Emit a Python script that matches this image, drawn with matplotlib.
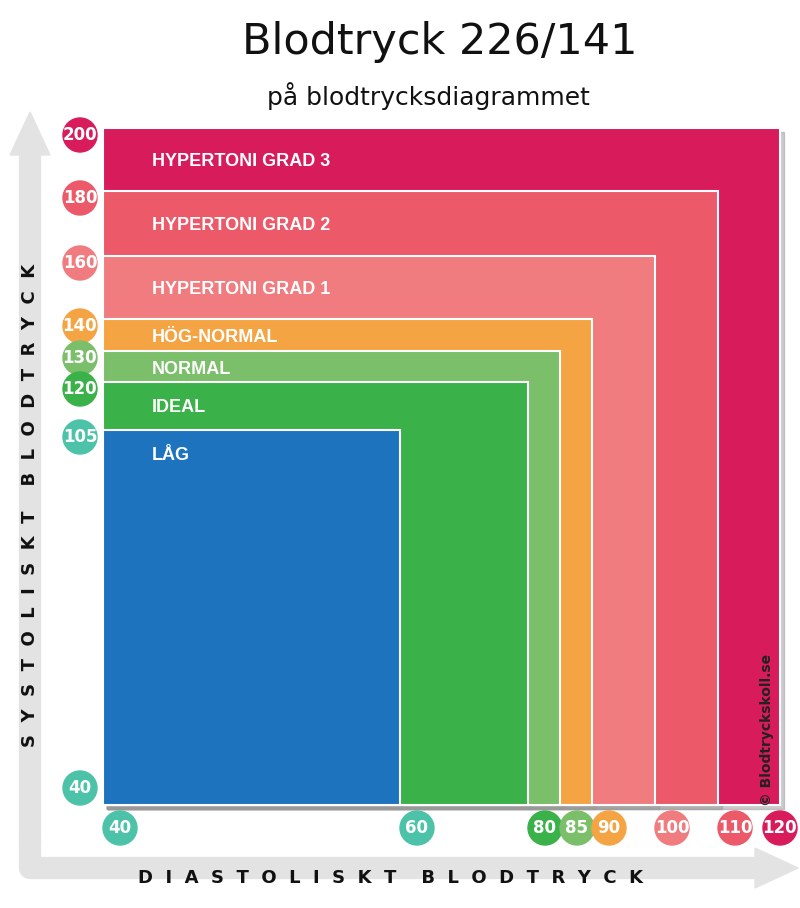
import matplotlib
matplotlib.use("Agg")
import matplotlib.pyplot as plt
import numpy as np
from matplotlib.patches import Rectangle, Circle, FancyArrow

# Data
categories = ["HYPERTONI GRAD 3", "HYPERTONI GRAD 2", "HYPERTONI GRAD 1", "HÖG-NORMAL", "NORMAL", "IDEAL", "LÅG"]
systolic = [200, 180, 160, 140, 130, 120, 105]
diastolic = [120, 110, 100, 90, 85, 80, 60]
colors = ["#D81B5A", "#EC5A6A", "#F07C80", "#F5A444", "#7BBF6A", "#3BB14A", "#1E73BE"]
sys_ticks = [200, 180, 160, 140, 130, 120, 105, 40]
dia_ticks = [40, 60, 80, 85, 90, 100, 110, 120]
title = "Blodtryck 226/141"
subtitle = "på blodtrycksdiagrammet"

# Layout scale (value -> pixel), piecewise axis of the original graphic
sys_scale_v = [40, 105, 120, 130, 140, 160, 180, 200]
sys_scale_p = [805, 430, 382, 351, 319, 256, 191, 128]
dia_scale_v = [40, 60, 80, 85, 90, 100, 110, 120]
dia_scale_p = [103, 400, 528, 560, 592, 655, 718, 780]
sy = lambda v: np.interp(v, sys_scale_v, sys_scale_p)
dx = lambda v: np.interp(v, dia_scale_v, dia_scale_p)

fig = plt.figure(figsize=(8, 9.08), dpi=100)
ax = fig.add_axes([0, 0, 1, 1])
ax.set_xlim(0, 800); ax.set_ylim(908, 0); ax.axis("off")

# gray arrows
g = "#E3E3E3"
ax.plot([30, 30], [845, 150], color=g, lw=16, solid_capstyle="butt", zorder=0)
ax.add_patch(plt.Polygon([[10, 155], [50, 155], [30, 112]], color=g, zorder=0))
ax.plot([30, 30, 760], [845, 868, 868], color=g, lw=16, solid_joinstyle="round", zorder=0)
ax.add_patch(plt.Polygon([[755, 848], [755, 888], [798, 868]], color=g, zorder=0))

x0, ybot = 103, 805
for cat, s, d, c in zip(categories, systolic, diastolic, colors):
    top, right = sy(s), dx(d)
    ax.add_patch(Rectangle((x0 + 4, top + 4), right - x0, ybot - top, color="#999999", alpha=0.5, zorder=1))
    ax.add_patch(Rectangle((x0, top), right - x0, ybot - top, facecolor=c, edgecolor="white", lw=1.5, zorder=2))
    ty = top + (34 if s >= 160 else (18 if s in (140, 130) else 25))
    ax.text(152, ty, cat, color="white", fontsize=13, fontweight="bold", family="Liberation Sans Narrow" if False else "Liberation Sans",
            va="center", ha="left", zorder=3)

sys_col = {200: "#D81B5A", 180: "#EC5A6A", 160: "#F07C80", 140: "#F5A444", 130: "#7BBF6A", 120: "#3BB14A", 105: "#4CC3A8", 40: "#4CC3A8"}
dia_col = {40: "#4CC3A8", 60: "#4CC3A8", 80: "#3BB14A", 85: "#7BBF6A", 90: "#F5A444", 100: "#F07C80", 110: "#EC5A6A", 120: "#D81B5A"}
for v in sys_ticks:
    y = sy(v) + (7 if v != 40 else -17)
    ax.add_patch(Circle((80, y), 17, color=sys_col[v], zorder=4))
    ax.text(80, y, str(v), color="white", fontsize=12, fontweight="bold", ha="center", va="center", zorder=5)
for v in dia_ticks:
    x = dx(v) + (17 if v != 120 else 0)
    ax.add_patch(Circle((x, 828), 17, color=dia_col[v], zorder=4))
    ax.text(x, 828, str(v), color="white", fontsize=12, fontweight="bold", ha="center", va="center", zorder=5)

ax.text(440, 42, title, fontsize=31, ha="center", va="center", color="#111111")
ax.text(428, 96, subtitle, fontsize=18, ha="center", va="center", color="#111111")
ax.text(30, 505, "  ".join("SYSTOLISKT") + "    " + "  ".join("BLODTRYCK"), rotation=90, fontsize=13,
        fontweight="bold", ha="center", va="center", color="#111111")
ax.text(390, 878, "  ".join("DIASTOLISKT") + "    " + "  ".join("BLODTRYCK"), fontsize=13,
        fontweight="bold", ha="center", va="center", color="#111111")
ax.text(767, 730, "© Blodtryckskoll.se", rotation=90, fontsize=10, fontweight="bold",
        ha="center", va="center", color="#222222", zorder=5)

fig.savefig("out.png", dpi=100)
